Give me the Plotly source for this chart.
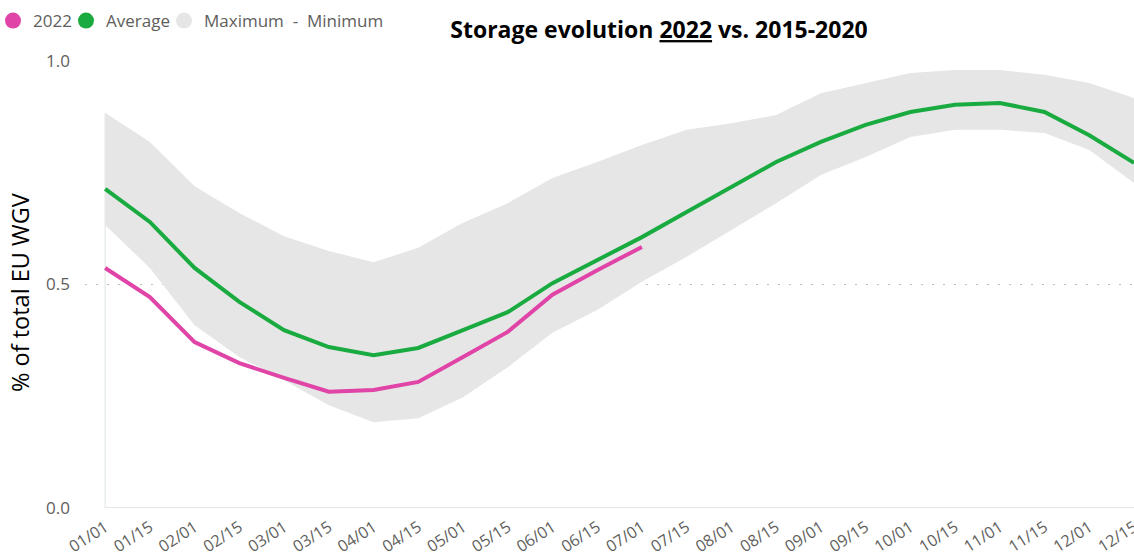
import plotly.graph_objects as go

# half-month points of the year
dates = ["01/01", "01/15", "02/01", "02/15", "03/01", "03/15", "04/01", "04/15",
         "05/01", "05/15", "06/01", "06/15", "07/01", "07/15", "08/01", "08/15",
         "09/01", "09/15", "10/01", "10/15", "11/01", "11/15", "12/01", "12/15"]

# 2015-2020 envelope and mean (share of total EU WGV)
max_vals = [0.884, 0.819, 0.720, 0.660, 0.608, 0.575, 0.550, 0.582, 0.638, 0.682,
            0.738, 0.774, 0.812, 0.846, 0.861, 0.879, 0.928, 0.951, 0.973, 0.980,
            0.980, 0.969, 0.951, 0.917]
min_vals = [0.633, 0.537, 0.409, 0.338, 0.286, 0.230, 0.192, 0.201, 0.248, 0.315,
            0.392, 0.443, 0.506, 0.562, 0.622, 0.682, 0.745, 0.785, 0.830, 0.846,
            0.846, 0.839, 0.801, 0.727]
avg_vals = [0.714, 0.640, 0.537, 0.461, 0.398, 0.360, 0.342, 0.358, 0.398, 0.438,
            0.503, 0.555, 0.606, 0.662, 0.718, 0.774, 0.819, 0.857, 0.886, 0.902,
            0.906, 0.886, 0.834, 0.772]

# 2022 values up to 07/01
vals_2022 = [0.537, 0.472, 0.371, 0.324, 0.291, 0.260, 0.264, 0.282, 0.338, 0.394,
             0.477, 0.532, 0.584]

PINK = "#E044A7"
GREEN = "#1AAB40"
BAND = "#E6E6E6"
GREY_TXT = "#605E5C"
FONT = "Open Sans"

W, H = 1134, 556
L, R, T, B = 85, 0, 61, 48
PW, PH = W - L - R, H - T - B

fig = go.Figure()

# band min -> max
fig.add_trace(go.Scatter(x=dates, y=min_vals, mode="lines", line=dict(width=0, color=BAND),
                         showlegend=False, hoverinfo="skip"))
fig.add_trace(go.Scatter(x=dates, y=max_vals, mode="lines", line=dict(width=0, color=BAND),
                         fill="tonexty", fillcolor=BAND, showlegend=False, hoverinfo="skip"))

fig.add_trace(go.Scatter(x=dates, y=avg_vals, mode="lines", line=dict(color=GREEN, width=4),
                         name="Average", showlegend=False))
fig.add_trace(go.Scatter(x=dates[:len(vals_2022)], y=vals_2022, mode="lines",
                         line=dict(color=PINK, width=4), name="2022", showlegend=False))

# legend entries shown as circles, one small legend each so spacing can be set
legend_items = [("2022", PINK, "legend", -7), ("Average", GREEN, "legend2", 66),
                ("Maximum  -  Minimum", BAND, "legend3", 164)]
legend_layout = {}
for name, col, lg, px_left in legend_items:
    fig.add_trace(go.Scatter(x=[None], y=[None], mode="markers", name=name, legend=lg,
                             marker=dict(symbol="circle", size=16, color=col)))
    legend_layout[lg] = dict(orientation="h", x=(px_left - L) / PW, xanchor="left",
                             y=1 + (T - 3) / PH, yanchor="top",
                             font=dict(size=17, color=GREY_TXT), itemsizing="trace",
                             bgcolor="rgba(0,0,0,0)")

# thin axis lines like the original
fig.add_shape(type="line", xref="x", yref="y", x0=dates[0], x1=dates[0], y0=0, y1=max_vals[0],
              line=dict(color="#DCE5DC", width=1), layer="below")
fig.add_shape(type="line", xref="x", yref="y", x0=dates[0], x1=dates[-1], y0=0, y1=0,
              line=dict(color="#DCDFDC", width=1.5), layer="above")

fig.update_layout(
    width=W, height=H,
    margin=dict(l=L, r=R, t=T, b=B, autoexpand=False),
    plot_bgcolor="white", paper_bgcolor="white",
    font=dict(family=FONT, color=GREY_TXT),
    title=dict(text="<b>Storage evolution <u>2022</u> vs. 2015-2020</b>",
               x=659 / W, xref="container", xanchor="center",
               y=1 - 30 / H, yref="container", yanchor="middle",
               font=dict(family=FONT, size=23, color="black")),
    showlegend=True,
    xaxis=dict(type="category", range=[-0.45, len(dates) - 1], showgrid=False, showline=False,
               zeroline=False, tickangle=-33, tickfont=dict(size=16, color=GREY_TXT),
               ticks="", ticklabelstandoff=6, fixedrange=True),
    yaxis=dict(range=[0, 1.0], tickvals=[0, 0.5, 1.0], tickformat=".1f",
               showgrid=True, gridcolor="#BDBDBD", griddash="2px,9px", gridwidth=1,
               zeroline=False, showline=False, tickfont=dict(size=17, color=GREY_TXT),
               ticklabelstandoff=14, fixedrange=True),
    **legend_layout,
)

fig.add_annotation(text="% of total EU WGV", xref="paper", yref="paper",
                   x=(20 - L) / PW, y=(H - B - 292) / PH,
                   xanchor="center", yanchor="middle", textangle=-90, showarrow=False,
                   font=dict(family=FONT, size=23.5, color="black"))

# page has a default 8px body margin; drop it so the figure fills the window
fig.write_html("out.html", config={"displayModeBar": False},
               post_script="document.body.style.margin='0';")
